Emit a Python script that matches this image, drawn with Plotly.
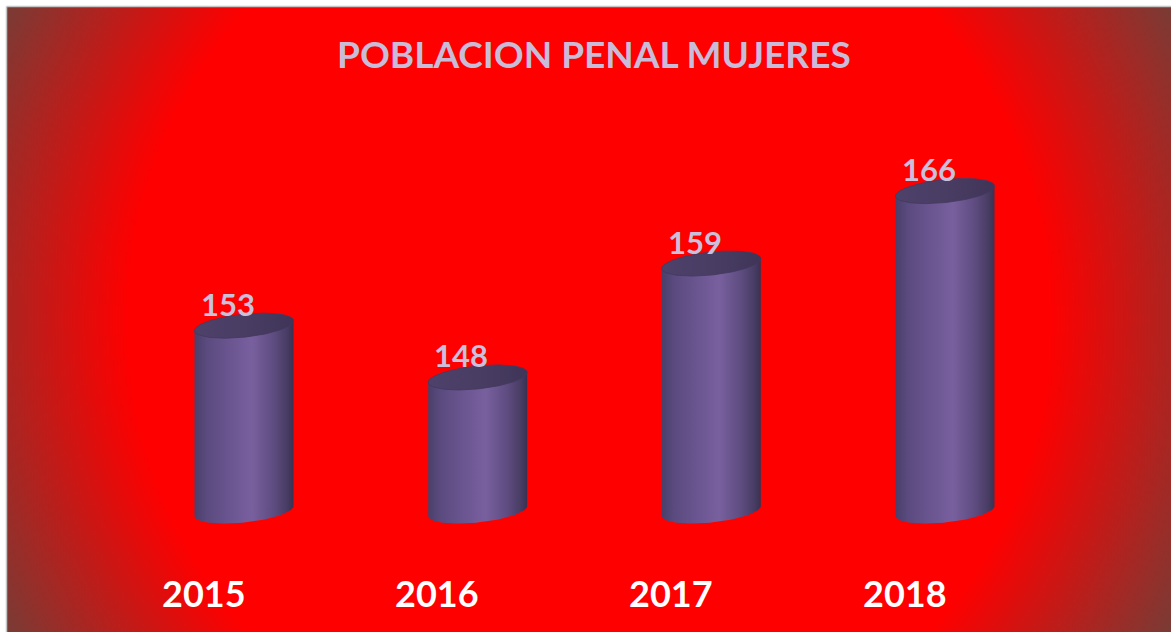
import base64
import struct
import zlib

import numpy as np
import plotly.graph_objects as go

# --- data -------------------------------------------------------------
years = ["2015", "2016", "2017", "2018"]
inmates = [153, 148, 159, 166]
title_text = "POBLACION PENAL MUJERES"

# --- canvas / scales ----------------------------------------------------
W, H = 1171, 632
BASE = 135.1                 # value at which the cylinders sit
PX_PER_UNIT_Y = 10.354       # vertical scale (px per inmate)
PX_PER_CAT = 233.67          # horizontal distance between cylinders
FIRST_CENTER_PX = 244.0
BASE_PX = 511.0

y_lo = BASE - (H - BASE_PX) / PX_PER_UNIT_Y
y_hi = BASE + BASE_PX / PX_PER_UNIT_Y
x_lo = -FIRST_CENTER_PX / PX_PER_CAT
x_hi = x_lo + W / PX_PER_CAT

# cylinder geometry in pixels
HALF_W = 49.5
ELL_B = 11.5
SHEAR = 0.1


def ellipse_pts(cx, cy, t):
    """Points of a slightly tilted ellipse, returned in data units."""
    dx = HALF_W * np.cos(t)
    dy = ELL_B * np.sin(t) - SHEAR * dx       # px, downward positive
    return cx + dx / PX_PER_CAT, cy - dy / PX_PER_UNIT_Y


def png_uri(rgb):
    h, w, _ = rgb.shape
    raw = b"".join(b"\x00" + rgb[r].tobytes() for r in range(h))

    def chunk(tag, data):
        c = struct.pack(">I", len(data)) + tag + data
        return c + struct.pack(">I", zlib.crc32(tag + data) & 0xFFFFFFFF)

    png = (b"\x89PNG\r\n\x1a\n"
           + chunk(b"IHDR", struct.pack(">IIBBBBB", w, h, 8, 2, 0, 0, 0))
           + chunk(b"IDAT", zlib.compress(raw, 9))
           + chunk(b"IEND", b""))
    return "data:image/png;base64," + base64.b64encode(png).decode()


# radial red background of the chart area
X0, Y0 = 7, 7
scale = 3
gw, gh = (W - X0) // scale, (H - Y0) // scale
gx = (np.arange(gw) + 0.5) * scale + X0
gy = (np.arange(gh) + 0.5) * scale + Y0
XX, YY = np.meshgrid(gx, gy)
dist = np.hypot(XX - 589.0, YY - 319.0)
tt = np.clip((dist - 460.0) / (662.0 - 460.0), 0, 1)[..., None]
red = np.array([255, 0, 0], float)
dark = np.array([120, 60, 54], float)
bg = (red * (1 - tt) + dark * tt).round().astype(np.uint8)
bg_uri = png_uri(bg)

fig = go.Figure()

body_scale = [
    [0.0, "#4a3f6a"],
    [0.12, "#5a4a7e"],
    [0.35, "#6a5590"],
    [0.58, "#78609e"],
    [0.80, "#5e4c80"],
    [0.93, "#493d65"],
    [1.0, "#3a3150"],
]
top_scale = [
    [0.0, "#4e416a"],
    [0.5, "#4a3d64"],
    [1.0, "#3f3558"],
]

for i, v in enumerate(inmates):
    # side wall: left edge, bottom front arc, right edge, then back arc of
    # the lid so the lid fully covers the top of the wall
    t_bot = np.linspace(np.pi, 0, 60)
    t_top = np.linspace(0, -np.pi, 60)
    bx, by = ellipse_pts(i, BASE, t_bot)
    tx, ty = ellipse_pts(i, v, t_top)
    xs = np.concatenate([bx, tx, bx[:1]])
    ys = np.concatenate([by, ty, by[:1]])
    fig.add_trace(go.Scatter(
        x=xs, y=ys, mode="lines", fill="toself",
        line=dict(width=0, color="rgba(0,0,0,0)"),
        fillgradient=dict(type="horizontal", colorscale=body_scale),
        hoverinfo="skip", showlegend=False,
    ))
    # lid
    t_all = np.linspace(0, 2 * np.pi, 121)
    ex, ey = ellipse_pts(i, v, t_all)
    fig.add_trace(go.Scatter(
        x=ex, y=ey, mode="lines", fill="toself",
        line=dict(width=0.8, color="#43385e"),
        fillgradient=dict(type="horizontal", colorscale=top_scale),
        hoverinfo="text", text=f"{years[i]}: {v}", showlegend=False,
    ))

FONT = "Lato"
annotations = []
for i, v in enumerate(inmates):
    annotations.append(dict(
        x=i - 16.5 / PX_PER_CAT, y=v + 22.0 / PX_PER_UNIT_Y,
        xref="x", yref="y", text=f"<b>{v}</b>", showarrow=False,
        xanchor="center", yanchor="middle",
        font=dict(family=FONT, size=31, color="#cbc0dc"),
    ))
    annotations.append(dict(
        x=i - 40.5 / PX_PER_CAT, y=1 - 593.0 / H,
        xref="x", yref="paper", text=f"<b>{years[i]}</b>", showarrow=False,
        xanchor="center", yanchor="middle",
        font=dict(family=FONT, size=36, color="#ffffff"),
    ))
annotations.append(dict(
    x=594.0 / W, y=1 - 53.0 / H, xref="paper", yref="paper",
    text=f"<b>{title_text}</b>", showarrow=False,
    xanchor="center", yanchor="middle",
    font=dict(family=FONT, size=37, color="#c8bcd8"),
))

fig.update_layout(
    width=W, height=H,
    margin=dict(l=0, r=0, t=0, b=0),
    paper_bgcolor="#ffffff",
    plot_bgcolor="rgba(0,0,0,0)",
    xaxis=dict(range=[x_lo, x_hi], visible=False, fixedrange=True),
    yaxis=dict(range=[y_lo, y_hi], visible=False, fixedrange=True),
    images=[dict(
        source=bg_uri, xref="paper", yref="paper",
        x=X0 / W, y=1 - Y0 / H, sizex=1 - X0 / W, sizey=1 - Y0 / H,
        xanchor="left", yanchor="top", sizing="stretch", layer="below",
    )],
    shapes=[
        dict(type="line", xref="paper", yref="paper",
             x0=6.5 / W, x1=1, y0=1 - 6.5 / H, y1=1 - 6.5 / H,
             line=dict(color="#c4c4c4", width=1.5)),
        dict(type="line", xref="paper", yref="paper",
             x0=6.5 / W, x1=6.5 / W, y0=0, y1=1 - 6.5 / H,
             line=dict(color="#c4c4c4", width=1.5)),
    ],
    annotations=annotations,
    showlegend=False,
)

fig.write_html("out.html", config=dict(displayModeBar=False))
